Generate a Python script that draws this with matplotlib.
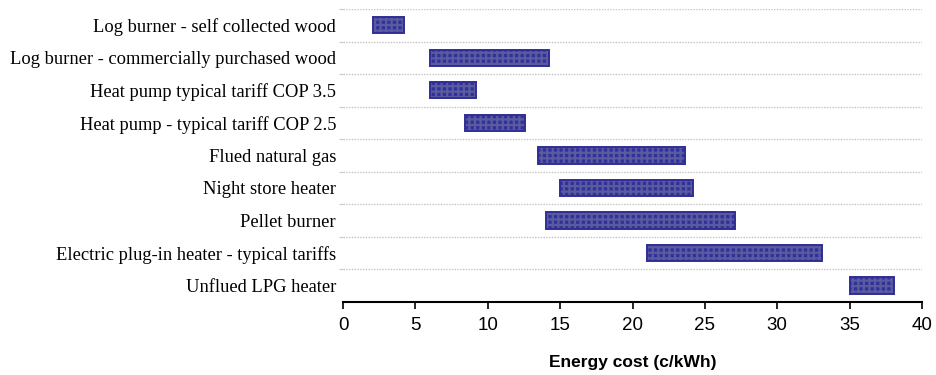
import matplotlib
matplotlib.use("Agg")
import matplotlib.pyplot as plt
import numpy as np

categories = [
    "Log burner - self collected wood",
    "Log burner - commercially purchased wood",
    "Heat pump typical tariff COP 3.5",
    "Heat pump - typical tariff COP 2.5",
    "Flued natural gas",
    "Night store heater",
    "Pellet burner",
    "Electric plug-in heater - typical tariffs",
    "Unflued LPG heater",
]
cost_low = [2.1, 6.0, 6.0, 8.4, 13.5, 15.0, 14.0, 21.0, 35.0]
cost_high = [4.2, 14.2, 9.2, 12.6, 23.6, 24.2, 27.1, 33.1, 38.1]
x_ticks = [0, 5, 10, 15, 20, 25, 30, 35, 40]

plt.rcParams["hatch.linewidth"] = 1.6

fig = plt.figure(figsize=(9.36, 3.75), dpi=100)
ax = fig.add_axes([0.3665, 0.195, 0.6185, 0.781])

pos = np.arange(len(categories))
low = np.array(cost_low)
span = np.array(cost_high) - low

# checkered fill
ax.barh(pos, span, left=low, height=0.5, color="#31319c",
        edgecolor="#5a5a9e", hatch="+++", linewidth=0, zorder=3)
# outline
ax.barh(pos, span, left=low, height=0.5, fill=False,
        edgecolor="#2e2e96", linewidth=1.4, zorder=4)

ax.set_xlim(0, 40)
ax.set_ylim(len(categories) - 0.5, -0.5)
ax.set_xticks(x_ticks)
ax.set_xticklabels([str(t) for t in x_ticks], family="Liberation Sans", fontsize=13.5)
ax.set_yticks(pos)
ax.set_yticklabels(categories, family="Liberation Serif", fontsize=13.3)
ax.tick_params(axis="y", which="major", length=0, pad=5)
ax.set_yticks(np.arange(len(categories)) - 0.5, minor=True)
ax.tick_params(axis="y", which="minor", length=3, color="#c8c8c8", width=0.8)
ax.grid(axis="y", which="minor", color="#c4c4c4", linestyle=(0, (1, 1)), linewidth=1.0, zorder=0)
ax.tick_params(axis="x", which="major", direction="out", length=5, width=1.2, color="black", pad=6)

for s in ("top", "right", "left"):
    ax.spines[s].set_visible(False)
ax.spines["bottom"].set_linewidth(1.5)

ax.set_xlabel("Energy cost (c/kWh)", family="Liberation Sans", fontsize=12.5,
              fontweight="bold", labelpad=15)

fig.savefig("out.png", dpi=100)
